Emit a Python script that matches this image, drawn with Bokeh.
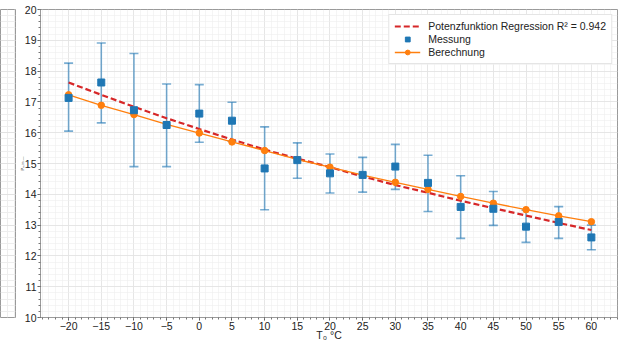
from bokeh.plotting import figure
from bokeh.layouts import row
from bokeh.models import (ColumnDataSource, Whisker, TeeHead, SingleIntervalTicker, Range1d,
                          Legend, LegendItem)
from bokeh.embed import file_html
from bokeh.resources import INLINE

# ---- data ----
temps = [-20, -15, -10, -5, 0, 5, 10, 15, 20, 25, 30, 35, 40, 45, 50, 55, 60]
messung = [17.13, 17.63, 16.73, 16.25, 16.62, 16.39, 14.84, 15.11, 14.68, 14.63, 14.90, 14.37, 13.59, 13.53, 12.95, 13.10, 12.60]
mess_lower = [16.05, 16.32, 14.90, 14.90, 15.69, 15.72, 13.50, 14.52, 14.04, 14.07, 14.16, 13.44, 12.57, 12.99, 12.44, 12.57, 12.20]
mess_upper = [18.26, 18.91, 18.57, 17.58, 17.56, 16.99, 16.19, 15.67, 15.31, 15.20, 15.62, 15.27, 14.60, 14.09, 13.48, 13.60, 13.00]
berechnung = [17.23, 16.89, 16.59, 16.27, 15.99, 15.70, 15.42, 15.13, 14.88, 14.62, 14.39, 14.16, 13.93, 13.71, 13.50, 13.30, 13.11]
regression = [17.63, 17.23, 16.84, 16.47, 16.12, 15.78, 15.45, 15.16, 14.88, 14.58, 14.30, 14.05, 13.79, 13.55, 13.31, 13.07, 12.84]
reg_label = "Potenzfunktion Regression R² = 0.942"
x_title = "T\u2080 \u00b0C"
y_title = "P\u2098 in \u2014"

FONT = "Liberation Sans"
BLUE = "#1f77b4"
ORANGE = "#ff7f0e"
RED = "#d62728"
GRID = "#e2e2e2"
MINOR = "#eeeeee"
FRAME = "#9a9a9a"

# ---- left partial panel ----
left = figure(width=16, height=343, output_backend="svg", toolbar_location=None,
              x_range=Range1d(0, 1), y_range=Range1d(10, 20),
              min_border_left=0, min_border_right=1, min_border_top=9, min_border_bottom=26)
left.xaxis.visible = False
left.yaxis.visible = False
left.xgrid.ticker = SingleIntervalTicker(interval=0.45)
left.ygrid.ticker = SingleIntervalTicker(interval=1)
left.xgrid.grid_line_color = MINOR
left.ygrid.grid_line_color = GRID
left.ygrid.minor_grid_line_color = MINOR
left.outline_line_color = FRAME

# ---- main panel ----
p = figure(width=604, height=343, output_backend="svg", toolbar_location=None,
           x_range=Range1d(-24.3, 64), y_range=Range1d(10, 20),
           min_border_left=24, min_border_right=3, min_border_top=9, min_border_bottom=25)

src = ColumnDataSource(dict(t=temps, m=messung, lo=mess_lower, hi=mess_upper,
                            b=berechnung, r=regression))

xt = SingleIntervalTicker(interval=5, num_minor_ticks=5)
yt = SingleIntervalTicker(interval=1, num_minor_ticks=5)
p.xaxis.ticker = xt
p.yaxis.ticker = yt
p.xgrid.ticker = xt
p.ygrid.ticker = yt
for g in (p.xgrid, p.ygrid):
    g.grid_line_color = GRID
    g.grid_line_width = 0.8
    g.minor_grid_line_color = MINOR
    g.minor_grid_line_width = 0.6

p.outline_line_color = FRAME
for ax in (p.xaxis, p.yaxis):
    ax.axis_line_color = FRAME
    ax.major_tick_line_color = "#555555"
    ax.minor_tick_line_color = "#777777"
    ax.major_tick_out = 3
    ax.major_tick_in = 0
    ax.minor_tick_out = 2
    ax.minor_tick_in = 0
    ax.major_label_text_font = FONT
    ax.major_label_text_font_size = "10.5px"
    ax.major_label_text_color = "#222222"
    ax.major_label_standoff = 1
    ax.axis_label_text_font = FONT
    ax.axis_label_text_font_style = "normal"
    ax.axis_label_text_color = "#222222"

p.xaxis.major_label_overrides = {t: ("\u2212" + str(-t) if t < 0 else str(t)) for t in range(-20, 65, 5)}
p.xaxis.axis_label = x_title
p.xaxis.axis_label_text_font_size = "10.5px"
p.xaxis.axis_label_standoff = -4
p.yaxis.axis_label = y_title
p.yaxis.axis_label_text_font_size = "4px"
p.yaxis.axis_label_text_color = "#444444"
p.yaxis.axis_label_standoff = -3

# error bars
wh = Whisker(source=src, base="t", lower="lo", upper="hi",
             line_color=BLUE, line_alpha=0.6, line_width=1.6,
             upper_head=TeeHead(size=9, line_color=BLUE, line_alpha=0.6, line_width=1.6),
             lower_head=TeeHead(size=9, line_color=BLUE, line_alpha=0.6, line_width=1.6))
p.add_layout(wh)

r_reg = p.line("t", "r", source=src, line_color=RED, line_width=2.2, line_dash="6 3")
r_ber = p.line("t", "b", source=src, line_color=ORANGE, line_width=1.3)
r_berp = p.scatter("t", "b", source=src, marker="circle", size=6.5,
                   fill_color=ORANGE, line_color=ORANGE)
r_mes = p.scatter("t", "m", source=src, marker="square", size=7,
                  fill_color=BLUE, line_color=BLUE)

legend = Legend(items=[
    LegendItem(label=reg_label, renderers=[r_reg]),
    LegendItem(label="Messung", renderers=[r_mes]),
    LegendItem(label="Berechnung", renderers=[r_ber, r_berp]),
], location="top_right")
legend.label_text_font = FONT
legend.label_text_font_size = "10.5px"
legend.label_text_color = "#222222"
legend.label_height = 12
legend.glyph_height = 12
legend.glyph_width = 26
legend.spacing = 1
legend.padding = 5
legend.margin = 5
legend.label_standoff = 8
legend.border_line_color = "#cccccc"
legend.background_fill_alpha = 1.0
p.add_layout(legend)

layout = row(left, p, spacing=0)
open("out.html", "w").write(file_html(layout, INLINE))
